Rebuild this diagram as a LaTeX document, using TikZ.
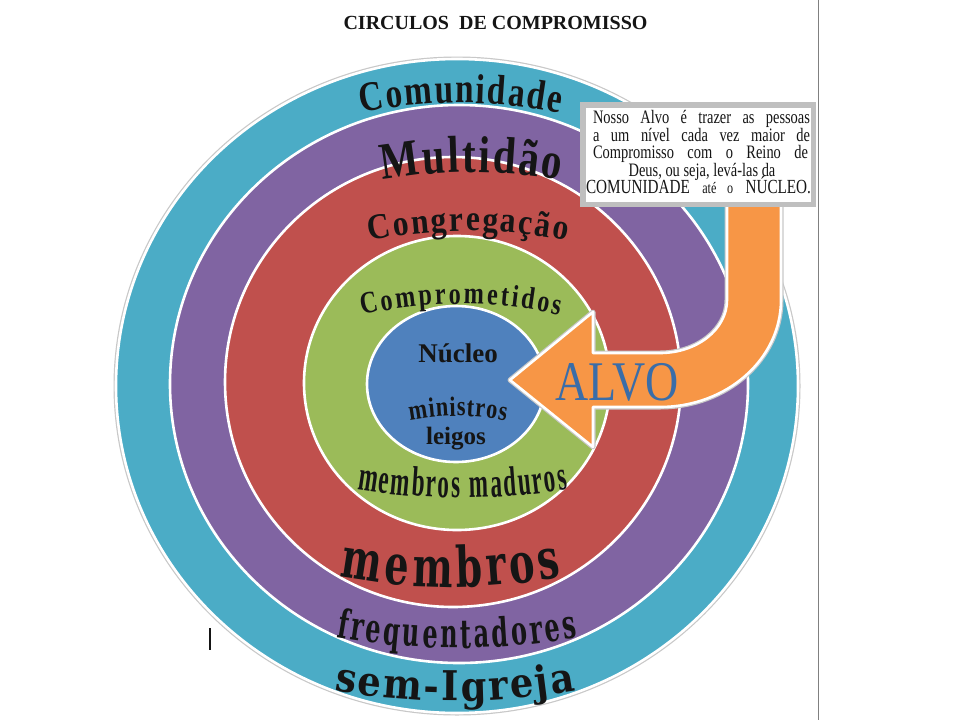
\documentclass[tikz,border=0pt]{standalone}
\usepackage{fontspec}
\setmainfont{Liberation Serif}
\usetikzlibrary{decorations.text}
\newfontfamily\lsA[FakeStretch=0.79]{Liberation Serif}
\newfontfamily\lsB[FakeStretch=0.88]{Liberation Serif}
\newfontfamily\lsC[FakeStretch=0.78]{Liberation Serif}
\newfontfamily\lsD[FakeStretch=0.8]{Liberation Serif}
\newfontfamily\lsE[FakeStretch=0.55]{Liberation Serif}
\newfontfamily\lsF[FakeStretch=0.82]{Liberation Serif}
\newfontfamily\lsG[FakeStretch=0.76]{Liberation Serif}
\newfontfamily\dvA[FakeStretch=0.68]{DejaVu Serif}
\newfontfamily\dvB[FakeStretch=0.6]{DejaVu Serif}
\newfontfamily\dvC[FakeStretch=0.9]{DejaVu Serif}
\definecolor{ctealc}{HTML}{4BACC6}
\definecolor{cpurp}{HTML}{8064A2}
\definecolor{cred}{HTML}{C0504D}
\definecolor{cgreen}{HTML}{9BBB59}
\definecolor{cblue}{HTML}{4F81BD}
\definecolor{corange}{HTML}{F79646}
\definecolor{ink}{HTML}{151515}
\definecolor{rimgray}{HTML}{C8C8C8}
\definecolor{boxgray}{HTML}{BFBFBF}
\definecolor{alvoblue}{HTML}{3A6DA8}
\definecolor{pageline}{HTML}{808080}
\newcommand\fmtComu{\lsA\bfseries\fontsize{42}{42}\selectfont}
\newcommand\fmtMult{\lsA\bfseries\fontsize{52}{52}\selectfont}
\newcommand\fmtCong{\lsB\bfseries\fontsize{36}{36}\selectfont}
\newcommand\fmtCompr{\lsC\bfseries\fontsize{31}{31}\selectfont}
\newcommand\fmtMin{\lsD\bfseries\fontsize{28}{28}\selectfont}
\newcommand\fmtMad{\lsE\bfseries\fontsize{42}{42}\selectfont}
\newcommand\fmtMemb{\dvA\bfseries\fontsize{56}{56}\selectfont}
\newcommand\fmtFreq{\dvB\bfseries\fontsize{40}{40}\selectfont}
\newcommand\fmtSem{\dvC\bfseries\fontsize{41}{41}\selectfont}
% frown-shaped text: xc, apex baseline y, R, half span left, half span right, format, text
\newcommand\frowntext[7]{%
  \path[shift={(#1,{#2+#3})},decorate,decoration={text along path,text align={fit to path},text={|#6\color{ink}|#7}}]
    ({270-asin(#4/#3)}:#3) arc[start angle={270-asin(#4/#3)},end angle={270+asin(#5/#3)},radius=#3];}
% smile-shaped text: xc, lowest baseline y, R, half span left, half span right, format, text
\newcommand\smiletext[7]{%
  \path[shift={(#1,{#2-#3})},decorate,decoration={text along path,text align={fit to path},text={|#6\color{ink}|#7}}]
    ({90+asin(#4/#3)}:#3) arc[start angle={90+asin(#4/#3)},end angle={90-asin(#5/#3)},radius=#3];}
\tikzset{
  ringrim/.style={draw=rimgray,line width=5pt},
  ring/.style={fill=#1,draw=white,line width=2.6pt},
  notetext/.style={font=\lsG\fontsize{19}{19}\selectfont,anchor=base,inner sep=0pt,text=ink},
  plainlabel/.style={anchor=base,inner sep=0pt,text=ink},
}
\begin{document}
\begin{tikzpicture}[x=1pt,y=-1pt]
\path[fill=white,use as bounding box] (0,0) rectangle (960,720);
% page edge line
\draw[pageline,line width=0.9pt] (818,0) -- (818,720);
% title
\node[font=\bfseries\fontsize{20}{20}\selectfont,anchor=base,inner sep=0pt,text=ink] (title) at (495.5,29) {CIRCULOS\hspace{5pt} DE COMPROMISSO};
% rings
\path[ringrim] (457,386) ellipse [x radius=341,y radius=327];
\path[ring=ctealc] (457,386) ellipse [x radius=341,y radius=327];
\path[ring=cpurp] (459,384) ellipse [x radius=289,y radius=279];
\path[ring=cred] (453,382) ellipse [x radius=228,y radius=225];
\path[ring=cgreen] (457,383) ellipse [x radius=153,y radius=147];
\path[ring=cblue] (456,384) ellipse [x radius=89,y radius=78];
% ring labels
\frowntext{461}{103}{500}{99}{99}{\fmtComu}{Comunidade}
\frowntext{471}{172}{500}{88}{89}{\fmtMult}{Multidão}
\frowntext{468}{231}{500}{98}{99}{\fmtCong}{Congregação}
\frowntext{461}{304}{450}{99}{99}{\fmtCompr}{Comprometidos}
\node[plainlabel,font=\bfseries\fontsize{27}{27}\selectfont] (nucleo) at (458,362) {Núcleo};
\frowntext{458}{416}{250}{48}{48}{\fmtMin}{ministros}
\node[plainlabel,font=\bfseries\fontsize{25}{25}\selectfont] (leigos) at (456,444) {leigos};
\smiletext{462}{498}{650}{105}{106}{\fmtMad}{membros maduros}
\smiletext{451}{587}{600}{111}{111}{\fmtMemb}{membros}
\smiletext{457}{648}{700}{121}{121}{\fmtFreq}{frequentadores}
\smiletext{455}{701}{700}{121}{121}{\fmtSem}{sem-Igreja}
% small mark
\fill[ink] (209,628) rectangle (211.2,650);
% bent arrow
\path[draw=rimgray,line width=5pt,line join=round]
  (727,200) -- (727,300) arc[start angle=0,end angle=90,x radius=67,y radius=53]
  -- (593,353) -- (593,312) -- (510,380) -- (593,447) -- (593,407) -- (660,407)
  arc[start angle=90,end angle=0,x radius=121,y radius=107] -- (781,200) -- cycle;
\path[fill=corange,draw=white,line width=2.6pt,line join=round]
  (727,200) -- (727,300) arc[start angle=0,end angle=90,x radius=67,y radius=53]
  -- (593,353) -- (593,312) -- (510,380) -- (593,447) -- (593,407) -- (660,407)
  arc[start angle=90,end angle=0,x radius=121,y radius=107] -- (781,200) -- cycle;
\node[anchor=base,inner sep=0pt,font=\lsF\fontsize{56}{56}\selectfont,text=alvoblue] (alvo) at (617,400) {ALVO};
% note box
\node[rectangle,fill=white,draw=boxgray,line width=5.5pt,minimum width=230.5pt,minimum height=99.5pt,inner sep=0pt] (box) at (698,154.5) {};
\node[notetext] (note1) at (701.5,123) {\makebox[217pt][s]{Nosso Alvo é trazer as pessoas}};
\node[notetext] (note2) at (701.5,141) {\makebox[217pt][s]{a um nível cada vez maior de}};
\node[notetext] (note3) at (700.5,158) {\makebox[215pt][s]{Compromisso com o Reino de}};
\node[notetext] (note4) at (702,176) {Deus, ou seja, levá-las da};
\node[notetext] (note5) at (698.5,193) {\makebox[225pt][s]{{\fontsize{20}{20}\selectfont COMUNIDADE} {\fontsize{16}{16}\selectfont até o} {\fontsize{20}{20}\selectfont NÚCLEO.}}};
\end{tikzpicture}
\end{document}
